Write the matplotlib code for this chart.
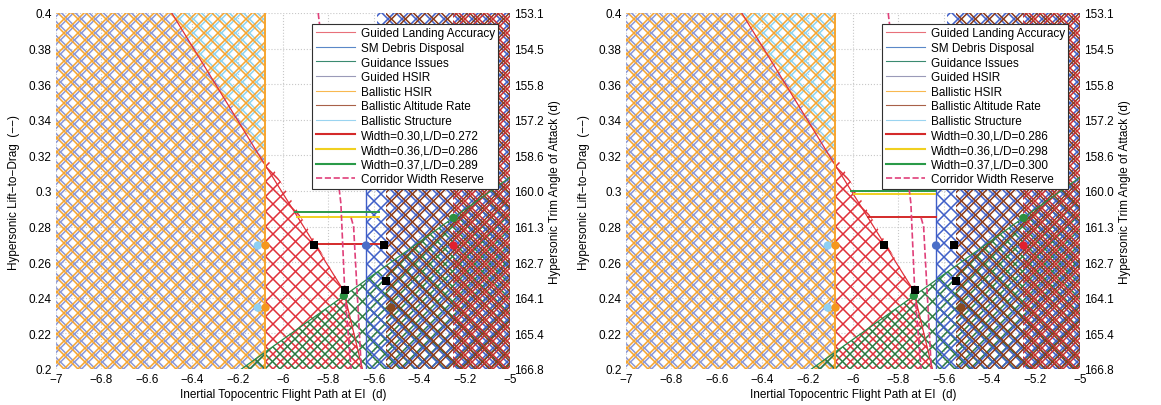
import matplotlib.pyplot as plt
import numpy as np
from matplotlib.patches import Polygon
from matplotlib.collections import LineCollection
from matplotlib.lines import Line2D

plt.rcParams['font.family'] = ['Liberation Sans', 'DejaVu Sans']
plt.rcParams['font.size'] = 8.5

# osie
fpa_ticks = [-7, -6.8, -6.6, -6.4, -6.2, -6, -5.8, -5.6, -5.4, -5.2, -5]
fpa_labels = ['−7', '−6.8', '−6.6', '−6.4', '−6.2', '−6', '−5.8', '−5.6', '−5.4', '−5.2', '−5']
ld_ticks = [0.2, 0.22, 0.24, 0.26, 0.28, 0.3, 0.32, 0.34, 0.36, 0.38, 0.4]
ld_labels = ['0.2', '0.22', '0.24', '0.26', '0.28', '0.3', '0.32', '0.34', '0.36', '0.38', '0.4']
aoa_labels = ['166.8', '165.4', '164.1', '162.7', '161.3', '160.0', '158.6', '157.2', '155.8', '154.5', '153.1']

# obszary ograniczen (x = kat toru lotu, y = L/D)
ball_hsir_x = [-7, -6.08, -6.08, -7]
ball_hsir_y = [0.2, 0.2, 0.4, 0.4]
guid_hsir_x = [-7, -6.08, -6.08, -6.49, -7]
guid_hsir_y = [0.2, 0.2, 0.3206, 0.4, 0.4]
struct_x = [-6.49, -6.08, -6.08]
struct_y = [0.4, 0.4, 0.3206]
landing_x = [-6.08, -6.08, -5.733, -5.65]
landing_y = [0.2, 0.3206, 0.244, 0.2]
landing2_x = [-5.249, -5.0, -5.0, -5.249]
landing2_y = [0.2, 0.2, 0.4, 0.4]
guidance_x = [-6.183, -5.0, -5.0]
guidance_y = [0.2, 0.3077, 0.2]
debris_x = [-5.636, -5.636, -5.585, -5.585, -5.0, -5.0]
debris_y = [0.2, 0.305, 0.305, 0.4, 0.4, 0.2]
altrate_x = [-5.548, -5.548, -5.0, -5.0]
altrate_y = [0.2, 0.4, 0.4, 0.2]

# linie graniczne
landing_line_x = [-6.49, -6.108, -5.733, -5.65]
landing_line_y = [0.4, 0.3206, 0.244, 0.2]
guidance_line_x = [-6.183, -5.0]
guidance_line_y = [0.2, 0.3077]
debris_line_x = [-5.636, -5.636]
debris_line_y = [0.2, 0.305]

# rezerwa szerokosci korytarza
reserve1_x = [-5.845, -5.745, -5.728, -5.70]
reserve1_y = [0.4, 0.293, 0.244, 0.2]
reserve2_x = [-5.70, -5.689, -5.655]
reserve2_y = [0.285, 0.28, 0.2]

# punkty
black_x = [-5.865, -5.556, -5.728, -5.545]
black_y = [0.2694, 0.2694, 0.2443, 0.2496]
pts_x = [-6.111, -6.111, -6.077, -6.077, -5.634, -5.249, -5.732, -5.249, -5.523]
pts_y = [0.2694, 0.2345, 0.2694, 0.2345, 0.2694, 0.2849, 0.2411, 0.2694, 0.2345]
pts_c = ['#8fd0f2', '#8fd0f2', '#f5981e', '#f5981e', '#4a6fc8', '#2a9040', '#2a9040', '#e02030', '#8b4a20']

# linie szerokosci
widths = [0.30, 0.36, 0.37]
w_cols = ['#d42a2a', '#f0d020', '#2a9a48']
w_ld_a = [0.2704, 0.2856, 0.2880]
w_x0_a = [-5.865, -5.938, -5.948]
w_lab_a = ['Width=0.30,L/D=0.272', 'Width=0.36,L/D=0.286', 'Width=0.37,L/D=0.289']
w_ld_b = [0.2855, 0.2981, 0.3002]
w_x0_b = [-5.936, -5.997, -6.007]
w_lab_b = ['Width=0.30,L/D=0.286', 'Width=0.36,L/D=0.298', 'Width=0.37,L/D=0.300']

names = ['Guided Landing Accuracy', 'SM Debris Disposal', 'Guidance Issues', 'Guided HSIR',
         'Ballistic HSIR', 'Ballistic Altitude Rate', 'Ballistic Structure']
name_cols = ['#e8707a', '#5a88c8', '#3a8a70', '#9a9ab8', '#f8b850', '#a86048', '#9ad4f0']

W_PX, H_PX = 454.0, 356.0


def kratka(ax, xs, ys, color, step=14.0, phase=0.0, lw=1.1):
    poly = Polygon(np.column_stack([xs, ys]), closed=True, facecolor='none',
                   edgecolor='none', transform=ax.transData)
    ax.add_patch(poly)
    segs = []
    for c in np.arange(-H_PX - 2 * step + phase, W_PX + H_PX + 2 * step, step):
        u = np.array([-H_PX - 50, W_PX + H_PX + 50])
        segs.append(np.column_stack([u / W_PX, (u - c) / H_PX]))
        segs.append(np.column_stack([u / W_PX, (c - u) / H_PX]))
    lc = LineCollection(segs, colors=color, linewidths=lw, transform=ax.transAxes, zorder=1)
    ax.add_collection(lc)
    lc.set_clip_path(poly)


def panel(rect, w_ld, w_x0, w_lab):
    ax = fig.add_axes(rect)
    ax.set_xlim(-7, -5)
    ax.set_ylim(0.2, 0.4)
    ax.set_axisbelow(True)
    ax.grid(True, linestyle=':', color='#c8c8c8', linewidth=0.8)

    kratka(ax, guid_hsir_x, guid_hsir_y, '#8a98d8', phase=3.5)
    kratka(ax, struct_x, struct_y, '#8fd3f0', phase=3.5)
    kratka(ax, ball_hsir_x, ball_hsir_y, '#f5a530', phase=0)
    kratka(ax, landing_x, landing_y, '#e0303a', step=15, phase=3)
    kratka(ax, guidance_x, guidance_y, '#2a7a40', step=15, phase=10)
    kratka(ax, debris_x, debris_y, '#3f5fc8', phase=2)
    kratka(ax, altrate_x, altrate_y, '#8b3a1a', phase=5.5)
    kratka(ax, landing2_x, landing2_y, '#c83030', step=14, phase=9)

    ax.plot(landing_line_x, landing_line_y, color='#e0303a', lw=0.9, zorder=2)
    ax.plot(guidance_line_x, guidance_line_y, color='#2a8a48', lw=0.9, zorder=2)
    ax.plot(debris_line_x, debris_line_y, color='#3f5fc8', lw=1.0, zorder=2)
    ax.axvline(-6.08, color='#f5a530', lw=1.4, zorder=2)

    for i in range(3):
        ax.plot([w_x0[i], w_x0[i] + widths[i]], [w_ld[i], w_ld[i]], color=w_cols[i], lw=1.4, zorder=3)
    ax.plot(reserve1_x, reserve1_y, '--', color='#e0407a', lw=1.2, zorder=3)
    ax.plot(reserve2_x, reserve2_y, '--', color='#e0407a', lw=1.2, zorder=3)

    ax.scatter(pts_x, pts_y, c=pts_c, s=36, zorder=4, linewidths=0)
    ax.scatter(black_x, black_y, c='k', marker='s', s=30, zorder=4, linewidths=0)

    ax.set_xticks(fpa_ticks)
    ax.set_xticklabels(fpa_labels)
    ax.set_yticks(ld_ticks)
    ax.set_yticklabels(ld_labels)
    ax.tick_params(direction='in', length=0, pad=3)
    for s in ax.spines.values():
        s.set_visible(False)
    ax.set_xlabel('Inertial Topocentric Flight Path at EI  (d)', labelpad=2)
    ax.set_ylabel('Hypersonic Lift\u2212to\u2212Drag  (\u2212\u2212)', labelpad=6)

    ax2 = ax.twinx()
    ax2.set_ylim(0.2, 0.4)
    ax2.set_yticks(ld_ticks)
    ax2.set_yticklabels(aoa_labels)
    ax2.tick_params(direction='in', length=0, pad=3)
    for s in ax2.spines.values():
        s.set_visible(False)
    ax2.set_ylabel('Hypersonic Trim Angle of Attack (d)', labelpad=4)

    handles = [Line2D([], [], color=c, lw=0.8) for c in name_cols]
    handles += [Line2D([], [], color=w_cols[i], lw=1.5) for i in range(3)]
    handles.append(Line2D([], [], color='#e0407a', lw=1.2, linestyle='--'))
    leg = ax2.legend(handles, names + w_lab + ['Corridor Width Reserve'], loc='upper right',
                     bbox_to_anchor=(0.987, 0.986), fontsize=8.5, handlelength=3.3,
                     handletextpad=0.5, labelspacing=0.22, borderpad=0.3, fancybox=False,
                     framealpha=1, edgecolor='#303030')
    leg.get_frame().set_linewidth(0.8)
    leg.set_zorder(10)


fig = plt.figure(figsize=(11.61, 4.06), dpi=100)
panel([56 / 1161, 1 - 370 / 406, 454 / 1161, 356 / 406], w_ld_a, w_x0_a, w_lab_a)
panel([626 / 1161, 1 - 370 / 406, 454 / 1161, 356 / 406], w_ld_b, w_x0_b, w_lab_b)

plt.savefig('out.png', dpi=100)
